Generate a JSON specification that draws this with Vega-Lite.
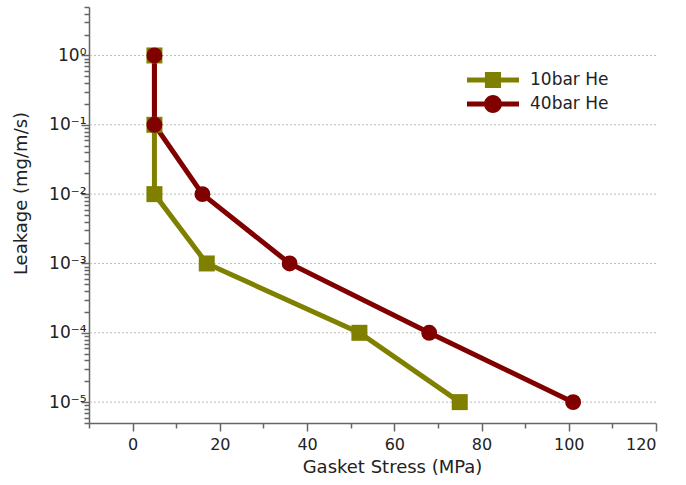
{
  "$schema": "https://vega.github.io/schema/vega-lite/v6.json",
  "width": 567,
  "height": 416,
  "autosize": "none",
  "padding": {"left": 89, "top": 7, "right": 30, "bottom": 62},
  "config": {
    "view": {"stroke": null},
    "font": "DejaVu Sans",
    "axis": {"domainColor": "#666", "tickColor": "#666", "domainWidth": 1.5, "tickWidth": 1.5, "labelColor": "#222", "titleColor": "#222", "labelFont": "DejaVu Sans", "titleFont": "DejaVu Sans", "labelFontSize": 16, "titleFontSize": 18, "titleFontWeight": "normal", "grid": false}
  },
  "datasets": {
    "series": [
      {"series": "10bar He", "stress": 5, "leakage": 1},
      {"series": "10bar He", "stress": 5, "leakage": 0.1},
      {"series": "10bar He", "stress": 5, "leakage": 0.01},
      {"series": "10bar He", "stress": 17, "leakage": 0.001},
      {"series": "10bar He", "stress": 52, "leakage": 0.0001},
      {"series": "10bar He", "stress": 75, "leakage": 0.00001},
      {"series": "40bar He", "stress": 5, "leakage": 1},
      {"series": "40bar He", "stress": 5, "leakage": 0.1},
      {"series": "40bar He", "stress": 16, "leakage": 0.01},
      {"series": "40bar He", "stress": 36, "leakage": 0.001},
      {"series": "40bar He", "stress": 68, "leakage": 0.0001},
      {"series": "40bar He", "stress": 101, "leakage": 0.00001}
    ],
    "grid": [
      {"level": 1}, {"level": 0.1}, {"level": 0.01}, {"level": 0.001}, {"level": 0.0001}, {"level": 0.00001}
    ]
  },
  "layer": [
    {
      "data": {"name": "grid"},
      "mark": {"type": "rule", "color": "#bdbdbd", "strokeDash": [2, 2], "strokeWidth": 1},
      "encoding": {
        "y": {"field": "level", "type": "quantitative", "scale": {"type": "log", "domain": [0.000005, 5], "nice": false}}
      }
    },
    {
      "data": {"name": "series"},
      "mark": {"type": "line", "strokeWidth": 5},
      "encoding": {
        "x": {"field": "stress", "type": "quantitative",
          "scale": {"domain": [-10, 120], "nice": false, "zero": false},
          "axis": {"title": "Gasket Stress (MPa)", "values": [-10, 0, 10, 20, 30, 40, 50, 60, 70, 80, 90, 100, 110, 120],
            "labelExpr": "datum.value % 20 == 0 ? datum.label : ''",
            "tickSize": {"condition": {"test": "datum.value % 20 == 0", "value": 8}, "value": 5},
            "labelPadding": 5, "titleX": 303, "titleY": 44, "titleAnchor": "middle", "titleAlign": "center", "titleBaseline": "middle"}},
        "y": {"field": "leakage", "type": "quantitative",
          "scale": {"type": "log", "domain": [0.000005, 5], "nice": false},
          "axis": {"title": "Leakage  (mg/m/s)",
            "values": [0.000005, 0.000006, 0.000007, 0.000008, 0.000009, 0.00001, 0.00002, 0.00003, 0.00004, 0.00005, 0.00006, 0.00007, 0.00008, 0.00009, 0.0001, 0.0002, 0.0003, 0.0004, 0.0005, 0.0006, 0.0007, 0.0008, 0.0009, 0.001, 0.002, 0.003, 0.004, 0.005, 0.006, 0.007, 0.008, 0.009, 0.01, 0.02, 0.03, 0.04, 0.05, 0.06, 0.07, 0.08, 0.09, 0.1, 0.2, 0.3, 0.4, 0.5, 0.6, 0.7, 0.8, 0.9, 1, 2, 3, 4, 5],
            "labelExpr": "datum.value==1?'10⁰':datum.value==0.1?'10⁻¹':datum.value==0.01?'10⁻²':datum.value==0.001?'10⁻³':datum.value==0.0001?'10⁻⁴':datum.value==0.00001?'10⁻⁵':''",
            "labelOverlap": false,
            "tickSize": {"condition": {"test": "indexof([1,0.1,0.01,0.001,0.0001,0.00001], datum.value) >= 0", "value": 8}, "value": 5},
            "labelPadding": -5, "labelFontSize": 17,
            "titleX": -68, "titleY": 186, "titleAngle": -90, "titleAnchor": "middle", "titleAlign": "center", "titleBaseline": "middle"}},
        "color": {"field": "series", "type": "nominal",
          "scale": {"domain": ["10bar He", "40bar He"], "range": ["#808000", "#800000"]},
          "legend": {"title": null, "orient": "none", "legendX": 391, "legendY": 60,
            "labelFontSize": 17, "labelFont": "DejaVu Sans", "labelColor": "#222", "symbolSize": 676, "symbolStrokeWidth": 0, "symbolOpacity": 1, "rowPadding": 2, "labelOffset": 24,
            "encode": {"symbols": {"update": {
              "shape": {"signal": "datum.value == '10bar He' ? 'M-2,-0.19H-0.62V-0.62H0.62V-0.19H2V0.19H0.62V0.62H-0.62V0.19H-2Z' : 'M0.69,0C0.69,0.381 0.381,0.69 0,0.69C-0.381,0.69 -0.69,0.381 -0.69,0C-0.69,-0.381 -0.381,-0.69 0,-0.69C0.381,-0.69 0.69,-0.381 0.69,0ZM-2,-0.19H2V0.19H-2Z'"},
              "fill": {"signal": "datum.value == '10bar He' ? '#808000' : '#800000'"},
              "fillOpacity": {"value": 1}, "opacity": {"value": 1}}}}}},
        "detail": {"field": "series"}
      }
    },
    {
      "data": {"name": "series"},
      "transform": [{"filter": "datum.series == '10bar He'"}],
      "mark": {"type": "point", "filled": true, "opacity": 1, "size": 256, "shape": "square", "color": "#808000"},
      "encoding": {
        "x": {"field": "stress", "type": "quantitative"},
        "y": {"field": "leakage", "type": "quantitative"}
      }
    },
    {
      "data": {"name": "series"},
      "transform": [{"filter": "datum.series == '40bar He'"}],
      "mark": {"type": "point", "filled": true, "opacity": 1, "size": 254, "shape": "circle", "color": "#800000"},
      "encoding": {
        "x": {"field": "stress", "type": "quantitative"},
        "y": {"field": "leakage", "type": "quantitative"}
      }
    }
  ]
}
